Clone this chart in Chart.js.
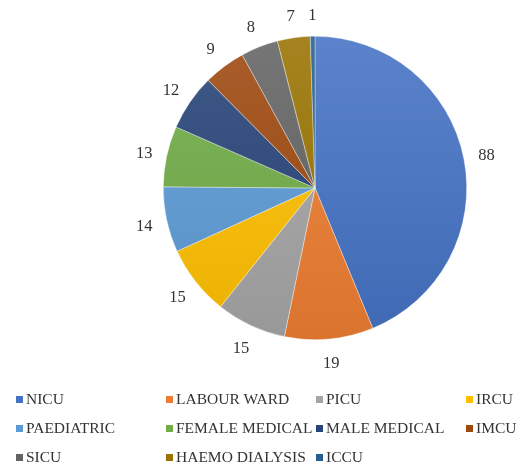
<!DOCTYPE html>
<html lang="en">
<head>
    <meta charset="UTF-8">
    <title>Pie</title>
    <script src="https://cdn.jsdelivr.net/npm/chart.js"></script>
    <style>
        html, body { margin: 0; padding: 0; background: #fff; }
        #wrap { width: 532px; height: 468px; }
    </style>
</head>
<body>
    <div id="wrap"><canvas id="pieChart" width="532" height="468"></canvas></div>

    <script>
        const units = ['NICU', 'LABOUR WARD', 'PICU', 'IRCU', 'PAEDIATRIC', 'FEMALE MEDICAL', 'MALE MEDICAL', 'IMCU', 'SICU', 'HAEMO DIALYSIS', 'ICCU'];
        const counts = [88, 19, 15, 15, 14, 13, 12, 9, 8, 7, 1];
        const colors = ['#4472C4', '#ED7D31', '#A5A5A5', '#FFC000', '#5B9BD5', '#70AD47', '#264478', '#9E480E', '#636363', '#997300', '#255E91'];

        function shade(hex, amt) {
            const n = parseInt(hex.slice(1), 16);
            let r = n >> 16, g = (n >> 8) & 255, b = n & 255;
            if (amt > 0) {
                r += (255 - r) * amt; g += (255 - g) * amt; b += (255 - b) * amt;
            } else {
                r *= 1 + amt; g *= 1 + amt; b *= 1 + amt;
            }
            return 'rgb(' + Math.round(r) + ',' + Math.round(g) + ',' + Math.round(b) + ')';
        }

        // labels outside each slice
        const outLabels = {
            id: 'outLabels',
            afterDatasetsDraw(chart) {
                const ctx = chart.ctx;
                const meta = chart.getDatasetMeta(0);
                ctx.save();
                ctx.font = '16.5px "Liberation Serif", "Times New Roman", serif';
                ctx.fillStyle = '#333';
                ctx.textAlign = 'center';
                ctx.textBaseline = 'middle';
                meta.data.forEach((arc, i) => {
                    const p = arc.getProps(['x', 'y', 'startAngle', 'endAngle', 'outerRadius'], true);
                    const a = (p.startAngle + p.endAngle) / 2;
                    const r = p.outerRadius + 23;
                    ctx.fillText(counts[i], p.x + Math.cos(a) * r, p.y + Math.sin(a) * r + 2);
                });
                ctx.restore();
            }
        };

        // legend in 4 fixed columns at the bottom
        const gridLegend = {
            id: 'gridLegend',
            afterDraw(chart) {
                const ctx = chart.ctx;
                const colX = [16, 166, 316, 466];
                const rowY = [400, 429, 458];
                ctx.save();
                ctx.font = '15.5px "Liberation Serif", "Times New Roman", serif';
                ctx.textBaseline = 'middle';
                ctx.textAlign = 'left';
                units.forEach((u, i) => {
                    const x = colX[i % 4];
                    const y = rowY[Math.floor(i / 4)];
                    ctx.fillStyle = colors[i];
                    ctx.fillRect(x, y - 4, 7, 7);
                    ctx.fillStyle = '#333';
                    ctx.fillText(u, x + 10, y);
                });
                ctx.restore();
            }
        };

        const ctx = document.getElementById('pieChart').getContext('2d');
        const pieChart = new Chart(ctx, {
            type: 'pie',
            data: {
                labels: units,
                datasets: [{
                    data: counts,
                    backgroundColor: function (c) {
                        const area = c.chart.chartArea;
                        if (!area) return colors[c.dataIndex];
                        const g = c.chart.ctx.createLinearGradient(0, area.top, 0, area.bottom);
                        g.addColorStop(0, shade(colors[c.dataIndex], 0.12));
                        g.addColorStop(1, shade(colors[c.dataIndex], -0.08));
                        return g;
                    },
                    borderColor: 'rgba(255,255,255,0.6)',
                    borderWidth: 0.6
                }]
            },
            options: {
                responsive: false,
                animation: false,
                layout: { padding: { left: 163, right: 65, top: 36, bottom: 128 } },
                plugins: {
                    legend: { display: false },
                    tooltip: { enabled: false }
                }
            },
            plugins: [outLabels, gridLegend]
        });
    </script>
</body>
</html>
